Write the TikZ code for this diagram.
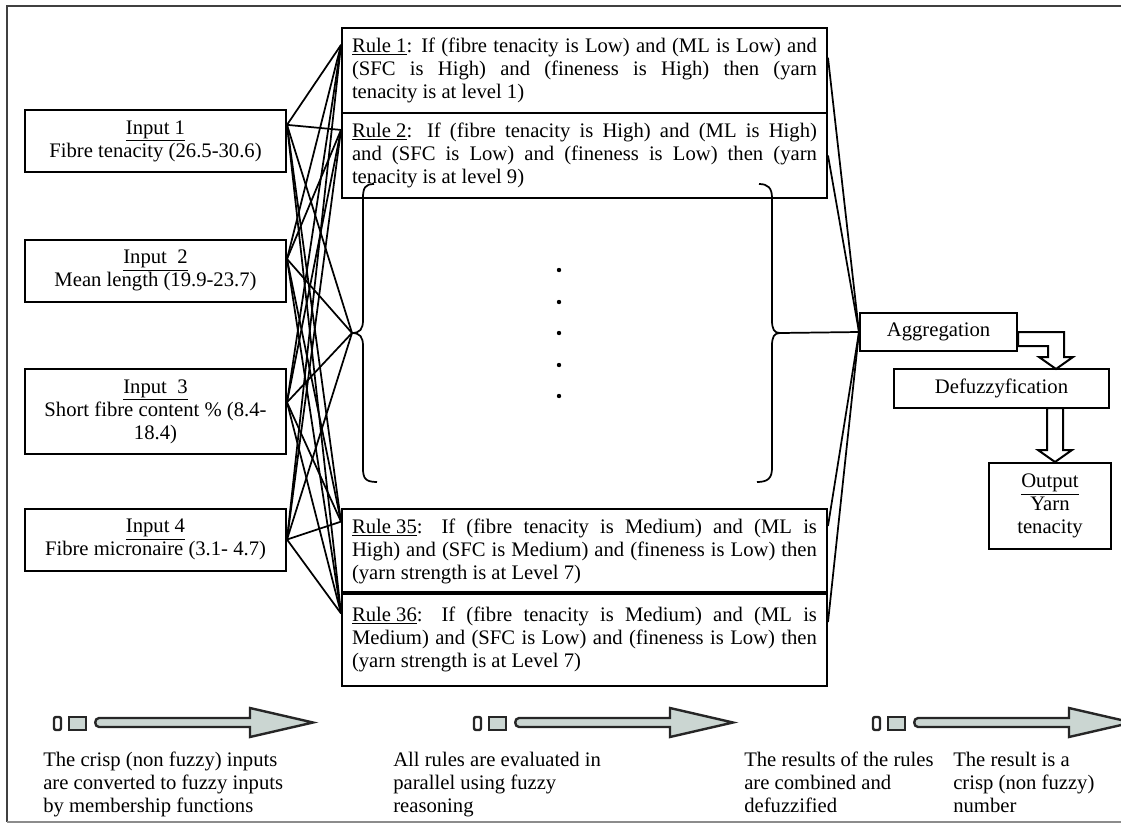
\documentclass[tikz,border=0pt]{standalone}
\usepackage{fontspec}
\setmainfont{Liberation Serif}
\hyphenpenalty=10000
\exhyphenpenalty=10000

\begin{document}
\begin{tikzpicture}[x=0.75pt,y=0.75pt,yscale=-1,xscale=1,
  every node/.style={font=\fontsize{15.5}{17.25}\selectfont},
  inbox/.style={draw, line width=1.5pt, align=center, minimum width=195.75pt, minimum height=46.5pt, inner sep=7.5pt},
  rulebox/.style={draw, line width=1.5pt, anchor=north, text width=348.75pt, align=justify, inner xsep=7.5pt, inner ysep=7.5pt},
  stagebox/.style={draw, line width=1.5pt, align=center, inner sep=3pt},
  note/.style={anchor=north west, align=left, inner sep=0pt},
  wire/.style={line width=1.3pt},
  hollow/.style={draw, line width=1.5pt, fill=white}]
\useasboundingbox (0,0) rectangle (1121,825);
\draw [line width=1.8pt, black!75] (1121,6) -- (7,6) -- (7,822);
\draw [line width=1.2pt, black!45] (7,822) -- (1121,822);

\node [inbox] (in1) at (155.5,141) {\underline{Input 1}\\Fibre tenacity (26.5-30.6)};
\node [inbox] (in2) at (155.5,270.5) {\underline{Input\ \ 2}\\Mean length (19.9-23.7)};
\node [inbox] (in3) at (155.5,411.5) {\underline{Input\ \ 3}\\Short fibre content \% (8.4-\\18.4)};
\node [inbox] (in4) at (155.5,539.5) {\underline{Input 4}\\Fibre micronaire (3.1- 4.7)};

\node [rulebox] (r1) at (584.5,27) {\underline{Rule 1}: If (fibre tenacity is Low) and (ML is Low) and\linebreak (SFC is High) and (fineness is High) then (yarn\linebreak tenacity is at level 1)};
\node [rulebox] (r2) at (584.5,112) {\underline{Rule 2}: If (fibre tenacity is High) and (ML is High)\linebreak and (SFC is Low) and (fineness is Low) then (yarn\linebreak tenacity is at level 9)};
\node [rulebox] (r35) at (584.5,508) {\underline{Rule\ 35}: If (fibre tenacity is Medium) and (ML is\linebreak High) and (SFC is Medium) and (fineness is Low) then\linebreak (yarn strength is at Level 7)};
\node [rulebox, minimum height=70.5pt] (r36) at (584.5,591) {\underline{Rule\ 36}: If (fibre tenacity is Medium) and (ML is\linebreak Medium) and (SFC is Low) and (fineness is Low) then\linebreak (yarn strength is at Level 7)};

\node [stagebox, minimum width=117.75pt, minimum height=28.5pt] (agg) at (938.5,332) {Aggregation};
\node [stagebox, minimum width=161.25pt, minimum height=29.25pt] (defz) at (1001.5,388.5) {Defuzzyfication};
\node [stagebox, minimum width=91.5pt, minimum height=64.5pt] (out) at (1050,506) {\underline{Output}\\Yarn\\tenacity};

\coordinate (lb) at (352,333);
\coordinate (rb) at (780,333);
\draw [line width=1.3pt] (374,184) .. controls (365,184) and (363,188) .. (363,198) -- (363,320) .. controls (363,329) and (360,333) .. (lb) .. controls (360,333) and (363,337) .. (363,346) -- (363,468) .. controls (363,478) and (365,482) .. (377,482);
\draw [line width=1.3pt] (759,184) .. controls (768,184) and (772,188) .. (772,198) -- (772,320) .. controls (772,329) and (774,333) .. (rb) .. controls (774,333) and (772,337) .. (772,346) -- (772,468) .. controls (772,478) and (768,482) .. (757,482);
\foreach \y in {270,302,333,365,396} \fill (559,\y) circle (2.2);

\foreach \i/\a in {in1/7,in2/5,in3/4,in4/0}
  \foreach \r in {r1.174,r2.174,lb,r35.173,r36.174}
    \draw [wire] (\i.\a) -- (\r);
\foreach \r in {r1.3,r2.0,r35.6,r36.4,rb}
  \draw [wire] (\r) -- (agg.west);

\draw [hollow] (agg.east) -- ++(46,0) -- ++(0,25) -- ++(9,0) -- ++(-17,12) -- ++(-17,-12) -- ++(9,0) -- ++(0,-11) -- ++(-30,0) -- cycle;
\draw [hollow] ([xshift=3.75pt]out.north) -- ++(-17,-12) -- ++(9,0) -- ++(0,-42) -- ++(16,0) -- ++(0,42) -- ++(9,0) -- cycle;

\foreach \s in {0,420,819}{
  \draw [line width=1.8pt, black!85, rounded corners=1.5pt] (\s+54,717) rectangle (\s+61,730);
  \draw [line width=1.4pt, black!85, fill={rgb, 255:red, 203; green, 214; blue, 210 }] (\s+69,717) rectangle (\s+86,730);
  \draw [line width=1.8pt, black!85, fill={rgb, 255:red, 203; green, 214; blue, 210 }] (\s+99,718) -- (\s+250,718) -- (\s+250,708) -- (\s+313,722.5) -- (\s+250,737) -- (\s+250,727) -- (\s+99,727) .. controls (\s+94,727) and (\s+94,718) .. (\s+99,718) -- cycle;
}

\node [note] (n1) at (43,752) {The crisp (non fuzzy) inputs\\are converted to fuzzy inputs\\by membership functions};
\node [note] (n2) at (393,752) {All rules are evaluated in\\parallel using fuzzy\\reasoning};
\node [note] (n3) at (744,752) {The results of the rules\\are combined and\\defuzzified};
\node [note] (n4) at (953,752) {The result is a\\crisp (non fuzzy)\\number};
\end{tikzpicture}
\end{document}
